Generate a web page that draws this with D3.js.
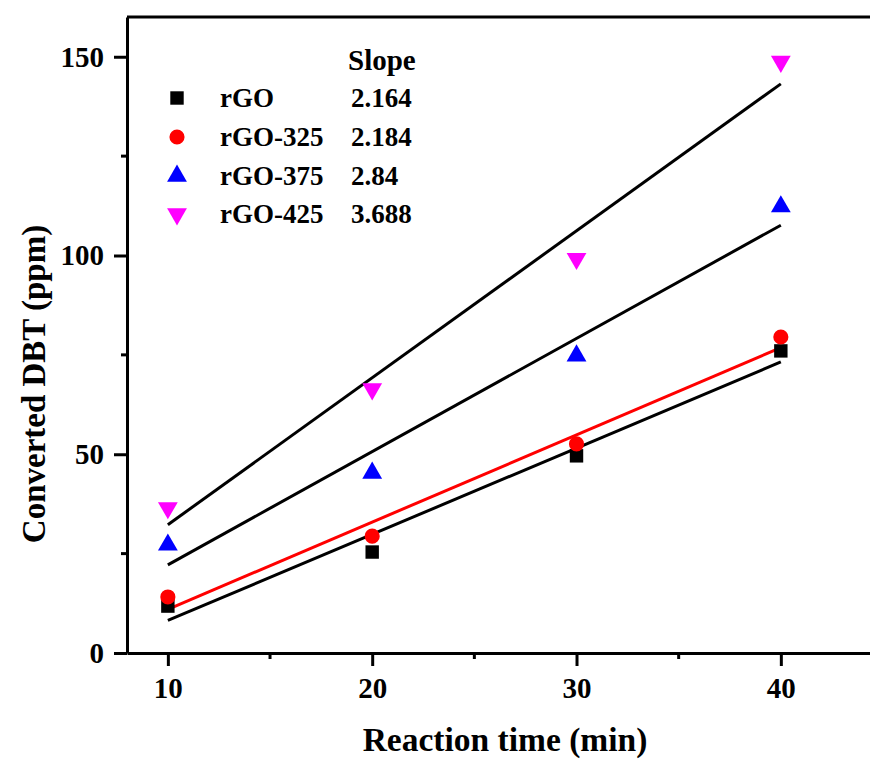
<!DOCTYPE html>
<html>
<head>
<meta charset="utf-8">
<script src="https://cdn.jsdelivr.net/npm/d3@7"></script>
<style>
  html, body { margin: 0; padding: 0; background: #fff; }
  svg { display: block; font-family: "Liberation Serif", "Times New Roman", serif; font-weight: bold; }
</style>
</head>
<body>
<svg id="chart" width="870" height="760"></svg>
<script>
// ---- data ----
const times = [10, 20, 30, 40];
const seriesNames = ["rGO", "rGO-325", "rGO-375", "rGO-425"];
const slopeLabels = ["2.164", "2.184", "2.84", "3.688"];
const rGO     = [11.8, 25.4, 49.6, 76.0];
const rGO325  = [14.1, 29.4, 52.6, 79.5];
const rGO375  = [27.2, 45.3, 74.8, 112.3];
const rGO425  = [36.5, 66.4, 99.2, 148.8];
const xTicks = [10, 20, 30, 40];
const xMinor = [15, 25, 35];
const yTicks = [0, 50, 100, 150];
const yMinor = [25, 75, 125];

const seriesValues = [rGO, rGO325, rGO375, rGO425];
const markerColors = ["#000000", "#ff0000", "#0000ff", "#ff00ff"];
const lineColors = ["#000000", "#ff0000", "#000000", "#000000"];
const symbols = [d3.symbolSquare, d3.symbolCircle, d3.symbolTriangle, d3.symbolTriangle];
const symSizes = [180, 180, 170, 170];
const symRot = [0, 0, 0, 180];

const svg = d3.select("#chart");
const x = d3.scaleLinear().domain([8, 45]).range([127, 883]);
const y = d3.scaleLinear().domain([0, 160]).range([653, 17]);

// frame top
svg.append("line").attr("x1", x(8)).attr("x2", x(45)).attr("y1", y(160)).attr("y2", y(160))
  .attr("stroke", "#000").attr("stroke-width", 3);

// fit lines (least squares)
function fit(xs, ys) {
  const mx = d3.mean(xs), my = d3.mean(ys);
  let num = 0, den = 0;
  xs.forEach((v, i) => { num += (v - mx) * (ys[i] - my); den += (v - mx) * (v - mx); });
  const b = num / den;
  return { b, a: my - b * mx };
}
const xMinT = d3.min(times), xMaxT = d3.max(times);
seriesValues.forEach((vals, i) => {
  const f = fit(times, vals);
  svg.append("line")
    .attr("x1", x(xMinT)).attr("y1", y(f.a + f.b * xMinT))
    .attr("x2", x(xMaxT)).attr("y2", y(f.a + f.b * xMaxT))
    .attr("stroke", lineColors[i]).attr("stroke-width", 3);
});

// markers
seriesValues.forEach((vals, i) => {
  svg.append("g").selectAll("path").data(vals).join("path")
    .attr("d", d3.symbol().type(symbols[i]).size(symSizes[i]))
    .attr("transform", (d, j) => `translate(${x(times[j])},${y(d)}) rotate(${symRot[i]})`)
    .attr("fill", markerColors[i]);
});

// axes
const xAxis = svg.append("g").attr("transform", `translate(0,${y(0)})`)
  .call(d3.axisBottom(x).tickValues(xTicks).tickSize(13).tickSizeOuter(0).tickPadding(11));
xAxis.append("g").selectAll("line").data(xMinor).join("line")
  .attr("x1", d => x(d)).attr("x2", d => x(d)).attr("y1", 0).attr("y2", 6)
  .attr("stroke", "#000").attr("stroke-width", 3);
const yAxis = svg.append("g").attr("transform", `translate(${x(8)},0)`)
  .call(d3.axisLeft(y).tickValues(yTicks).tickSize(13).tickSizeOuter(0).tickPadding(10));
yAxis.append("g").selectAll("line").data(yMinor).join("line")
  .attr("x1", 0).attr("x2", -6).attr("y1", d => y(d)).attr("y2", d => y(d))
  .attr("stroke", "#000").attr("stroke-width", 3);
[xAxis, yAxis].forEach(g => {
  g.select(".domain").attr("stroke", "#000").attr("stroke-width", 3);
  g.selectAll(".tick line").attr("stroke", "#000").attr("stroke-width", 3);
  g.selectAll("text").attr("font-family", "Liberation Serif").attr("font-weight", "bold")
    .attr("font-size", 29).attr("fill", "#000");
});

// axis titles
svg.append("text").attr("x", 505).attr("y", 751).attr("text-anchor", "middle")
  .attr("font-size", 33.5).text("Reaction time (min)");
svg.append("text").attr("transform", "translate(45,384) rotate(-90)").attr("text-anchor", "middle")
  .attr("font-size", 33).text("Converted DBT (ppm)");

// legend
const legend = svg.append("g");
legend.append("text").attr("x", 348).attr("y", 70).attr("font-size", 29).text("Slope");
const rowY = [98, 137, 176, 214];
seriesNames.forEach((name, i) => {
  legend.append("path")
    .attr("d", d3.symbol().type(symbols[i]).size(symSizes[i]))
    .attr("transform", `translate(177,${rowY[i]}) rotate(${symRot[i]})`)
    .attr("fill", markerColors[i]);
  legend.append("text").attr("x", 220).attr("y", rowY[i] + 9).attr("font-size", 27).text(name);
  legend.append("text").attr("x", 351).attr("y", rowY[i] + 9).attr("font-size", 27).text(slopeLabels[i]);
});
</script>
</body>
</html>
